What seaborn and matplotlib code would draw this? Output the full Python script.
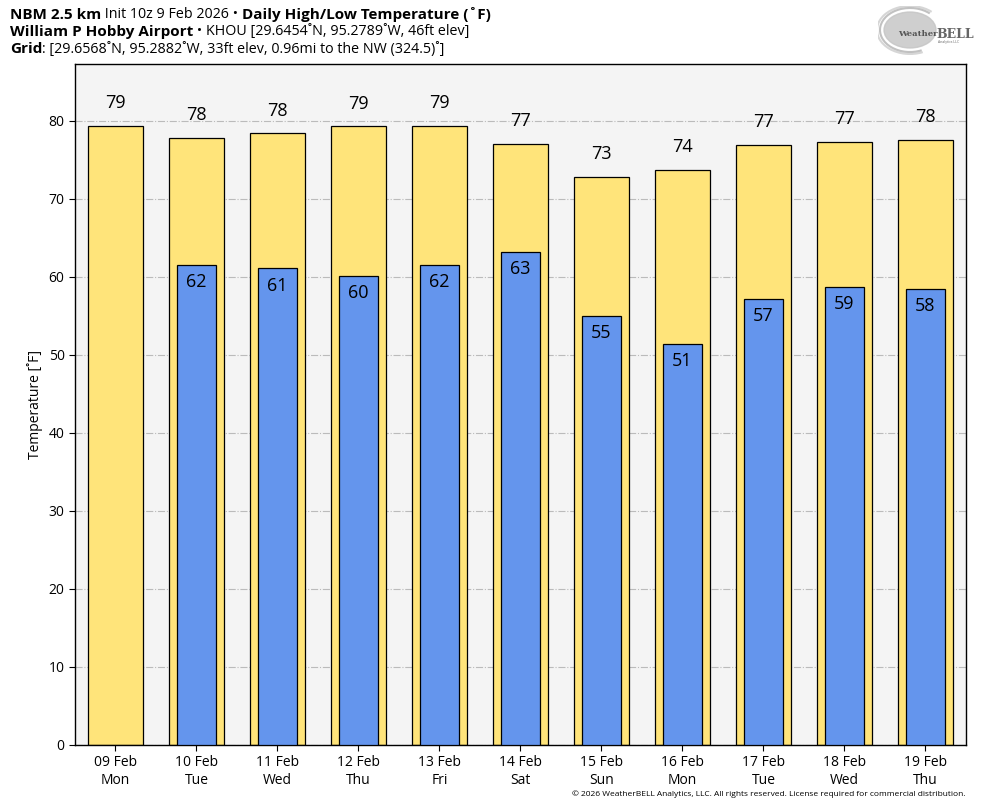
import numpy as np
import pandas as pd
import matplotlib
matplotlib.use('Agg')
import matplotlib.pyplot as plt
from matplotlib.patches import Ellipse, Arc
import seaborn as sns

# ── data ──
DATES = ['09 Feb\nMon', '10 Feb\nTue', '11 Feb\nWed', '12 Feb\nThu', '13 Feb\nFri', '14 Feb\nSat',
         '15 Feb\nSun', '16 Feb\nMon', '17 Feb\nTue', '18 Feb\nWed', '19 Feb\nThu']
HIGHS = [79.4, 77.8, 78.4, 79.3, 79.4, 77.1, 72.8, 73.7, 76.9, 77.3, 77.6]
LOWS = [np.nan, 61.5, 61.1, 60.1, 61.5, 63.2, 55.0, 51.4, 57.2, 58.7, 58.5]

YELLOW = '#ffe47a'
BLUE = '#6495ed'
FONT = ['Open Sans', 'DejaVu Sans']

sns.set_style('white')
plt.rcParams['font.family'] = FONT
plt.rcParams['text.color'] = 'black'
plt.rcParams['axes.labelcolor'] = 'black'
plt.rcParams['xtick.color'] = 'black'
plt.rcParams['ytick.color'] = 'black'

df = pd.DataFrame({'day': DATES, 'high': HIGHS, 'low': LOWS})

fig = plt.figure(figsize=(9.84, 8.08), dpi=100)
ax = fig.add_axes([0.0762, 0.078, 0.9055, 0.8428])
ax.set_facecolor('#f4f4f4')

sns.barplot(data=df, x='day', y='high', color=YELLOW, width=0.69, edgecolor='black',
            linewidth=0.9, saturation=1, ax=ax, zorder=2)
sns.barplot(data=df, x='day', y='low', color=BLUE, width=0.48, edgecolor='black',
            linewidth=0.9, saturation=1, ax=ax, zorder=3)

for i, (h, l) in enumerate(zip(HIGHS, LOWS)):
    ax.text(i, h + 2.9, f'{round(h):d}', ha='center', va='center', fontsize=13, zorder=5)
    if not np.isnan(l):
        ax.text(i, l - 2.2, f'{round(l):d}', ha='center', va='center', fontsize=13, zorder=5)

ax.set_xlim(-0.5, 10.5)
ax.set_ylim(0, 87.3)
ax.set_yticks(range(0, 81, 10))
ax.yaxis.grid(True, color='#bbbbbb', linestyle='-.', linewidth=0.8, zorder=0)
ax.set_axisbelow(True)
ax.set_xlabel('')
ax.set_ylabel('Temperature [˚F]', fontsize=10)
ax.tick_params(axis='both', labelsize=10, length=4, width=0.8, direction='out',
               bottom=True, left=True, color='black')
for s in ax.spines.values():
    s.set_color('black')
    s.set_linewidth(1)

# ── header lines with mixed weight ──
renderer = fig.canvas.get_renderer()


def header(y, parts):
    x = 10
    for txt, bold in parts:
        t = fig.text(x / 984, y, txt, fontsize=11 if bold else 10.3,
                     fontweight='bold' if bold else 'normal', ha='left', va='center')
        bb = t.get_window_extent(renderer=renderer)
        x += bb.width


header(1 - 15 / 808, [('NBM 2.5 km', True), (' Init 10z 9 Feb 2026 • ', False),
                      ('Daily High/Low Temperature (˚F)', True)])
header(1 - 32 / 808, [('William P Hobby Airport', True),
                      (' • KHOU [29.6454˚N, 95.2789˚W, 46ft elev]', False)])
header(1 - 49 / 808, [('Grid', True),
                      (': [29.6568˚N, 95.2882˚W, 33ft elev, 0.96mi to the NW (324.5)˚]', False)])

fig.text(966 / 984, 1 - 794 / 808,
         '© 2026 WeatherBELL Analytics, LLC. All rights reserved. License required for commercial distribution.',
         fontsize=6, ha='right', va='center')

# ── logo (rough) ──
lax = fig.add_axes([878 / 984, 1 - 56 / 808, 90 / 984, 50 / 808])
lax.set_xlim(0, 90)
lax.set_ylim(0, 50)
lax.axis('off')
lax.add_patch(Ellipse((32, 26), 52, 36, color='#c4c4c4', alpha=0.8))
for w, hgt, a in [(60, 44, 0.6), (66, 48, 0.4)]:
    lax.add_patch(Arc((32, 26), w, hgt, theta1=40, theta2=300, color='#999999', lw=1.5, alpha=a))
lax.text(20, 22, 'Weather', fontsize=6, color='#555555', fontweight='bold', ha='left', va='center',
         family='DejaVu Serif')
lax.text(58, 22, 'BELL', fontsize=9, color='#666666', fontweight='bold', ha='left', va='center',
         family='DejaVu Serif')
lax.text(60, 14, 'Analytics LLC', fontsize=2.5, color='#666666', ha='left', va='center')

fig.savefig('out.png', dpi=100, facecolor='white')
